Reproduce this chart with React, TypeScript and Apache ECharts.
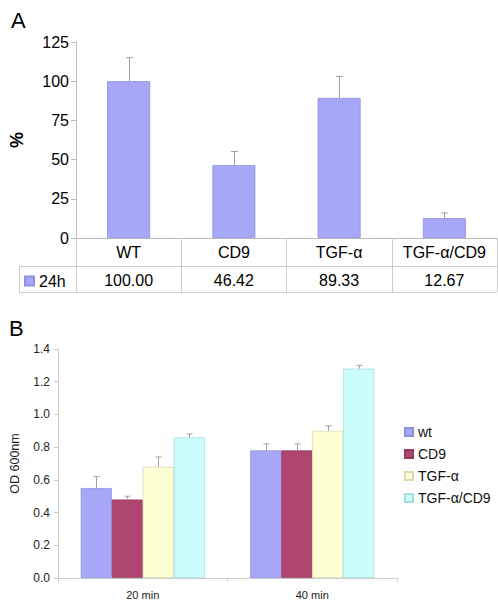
import React, { useEffect, useRef } from "react";
import * as echarts from "echarts";

// ---- Panel A data ----
const categoriesA = ["WT", "CD9", "TGF-α", "TGF-α/CD9"];
const values24h = [100, 46.42, 89.33, 12.67];
const errors24h = [15, 8.7, 13.7, 3.3];
const yTicksA = { min: 0, max: 125, interval: 25 };

// ---- Panel B data ----
const categoriesB = ["20 min", "40 min"];
const seriesNamesB = ["wt", "CD9", "TGF-α", "TGF-α/CD9"];
const wtValues = [0.55, 0.78];
const wtErrors = [0.07, 0.04];
const cd9Values = [0.48, 0.78];
const cd9Errors = [0.02, 0.04];
const tgfValues = [0.68, 0.9];
const tgfErrors = [0.06, 0.03];
const tgfCd9Values = [0.86, 1.28];
const tgfCd9Errors = [0.02, 0.02];
const yTicksB = { min: 0, max: 1.4, interval: 0.2 };

const colorsB = ["#a6a8f7", "#ae4670", "#ffffd4", "#ccfdfd"];
const bordersB = ["#8e90e0", "#953a60", "#d8d8b4", "#a6dcdc"];

const FONT = "Liberation Sans, Arial, sans-serif";

function errorRenderer(offset: number, capHalf: number) {
  return (params: any, api: any) => {
    const cat = api.value(0);
    const v = api.value(1);
    const e = api.value(2);
    const p0 = api.coord([cat, v]);
    const p1 = api.coord([cat, v + e]);
    const x = Math.round(p0[0] + offset) + 0.5;
    const style = { stroke: "#a0a0a0", lineWidth: 1 };
    return {
      type: "group",
      children: [
        { type: "line", shape: { x1: x, y1: p0[1], x2: x, y2: p1[1] }, style },
        { type: "line", shape: { x1: x - capHalf, y1: p1[1], x2: x + capHalf, y2: p1[1] }, style },
      ],
    };
  };
}

export default function App() {
  const ref = useRef<HTMLDivElement>(null);
  useEffect(() => {
    if (!ref.current) return;
    const chart = echarts.init(ref.current, null, { renderer: "svg" });
    const valsB = [wtValues, cd9Values, tgfValues, tgfCd9Values];
    const errsB = [wtErrors, cd9Errors, tgfErrors, tgfCd9Errors];
    const barWB = 31;

    const option: any = {
      animation: false,
      textStyle: { fontFamily: FONT },
      graphic: [
        { type: "text", left: 11, top: 9, style: { text: "A", fontSize: 22, fontFamily: FONT, fill: "#000" } },
        { type: "text", left: 9, top: 317, style: { text: "B", fontSize: 22, fontFamily: FONT, fill: "#000" } },
        { type: "line", shape: { x1: 19, y1: 266.5, x2: 497, y2: 266.5 }, style: { stroke: "#cccccc", lineWidth: 1 } },
        { type: "line", shape: { x1: 19, y1: 292.5, x2: 497, y2: 292.5 }, style: { stroke: "#cccccc", lineWidth: 1 } },
        { type: "line", shape: { x1: 19.5, y1: 266, x2: 19.5, y2: 293 }, style: { stroke: "#cccccc", lineWidth: 1 } },
      ],
      legend: [
        {
          data: ["24h"],
          left: 24,
          top: 273,
          padding: 0,
          icon: "rect",
          itemWidth: 9,
          itemHeight: 9,
          textStyle: { fontSize: 16, color: "#000", fontFamily: FONT },
        },
        {
          data: seriesNamesB,
          orient: "vertical",
          left: 404,
          top: 425,
          padding: 0,
          icon: "rect",
          itemWidth: 8,
          itemHeight: 8,
          itemGap: 8,
          textStyle: { fontSize: 14, color: "#111", fontFamily: FONT },
        },
      ],
      grid: [
        { left: 72, top: 42, width: 425, height: 196 },
        { left: 53, top: 349, width: 344, height: 229 },
      ],
      xAxis: [
        {
          type: "category",
          gridIndex: 0,
          data: categoriesA,
          axisLine: { lineStyle: { color: "#bbbbbb" } },
          axisTick: { show: true, length: 54, interval: 0, lineStyle: { color: "#cccccc" } },
          axisLabel: { fontSize: 16, color: "#000", margin: 6, fontFamily: FONT, interval: 0 },
        },
        {
          type: "category",
          gridIndex: 0,
          position: "bottom",
          offset: 28,
          data: categoriesA,
          axisLine: { show: false },
          axisTick: { show: false },
          axisLabel: {
            fontSize: 16,
            color: "#000",
            margin: 6,
            fontFamily: FONT,
            interval: 0,
            formatter: (_v: string, i: number) => values24h[i].toFixed(2),
          },
        },
        {
          type: "category",
          gridIndex: 1,
          data: categoriesB,
          axisLine: { lineStyle: { color: "#cccccc" } },
          axisTick: { show: true, length: 4, lineStyle: { color: "#cccccc" } },
          axisLabel: { fontSize: 11, color: "#222", margin: 11, fontFamily: FONT },
        },
      ],
      yAxis: [
        {
          type: "value",
          gridIndex: 0,
          min: yTicksA.min,
          max: yTicksA.max,
          interval: yTicksA.interval,
          name: "%",
          nameLocation: "middle",
          nameGap: 50,
          nameRotate: 90,
          nameTextStyle: { fontSize: 18, fontWeight: "bold", color: "#000", fontFamily: FONT },
          splitLine: { show: false },
          axisLine: { show: true, lineStyle: { color: "#bbbbbb" } },
          axisTick: { show: true, length: 5, lineStyle: { color: "#bbbbbb" } },
          axisLabel: { fontSize: 16, color: "#000", margin: 7, fontFamily: FONT },
        },
        {
          type: "value",
          gridIndex: 1,
          min: yTicksB.min,
          max: yTicksB.max,
          interval: yTicksB.interval,
          name: "OD 600nm",
          nameLocation: "middle",
          nameGap: 37,
          nameRotate: 90,
          nameTextStyle: { fontSize: 12.5, color: "#222", fontFamily: FONT },
          splitLine: { show: false },
          axisLine: { show: true, lineStyle: { color: "#cccccc" } },
          axisTick: { show: true, length: 4, lineStyle: { color: "#cccccc" } },
          axisLabel: {
            fontSize: 12,
            color: "#222",
            margin: 8,
            fontFamily: FONT,
            formatter: (v: number) => v.toFixed(1),
          },
        },
      ],
      series: [
        {
          name: "24h",
          type: "bar",
          xAxisIndex: 0,
          yAxisIndex: 0,
          data: values24h,
          barWidth: 43,
          itemStyle: { color: "#a6a8f7", borderColor: "#8e90e0", borderWidth: 0.8 },
        },
        {
          name: "err24h",
          type: "custom",
          xAxisIndex: 0,
          yAxisIndex: 0,
          data: values24h.map((v, i) => [i, v, errors24h[i]]),
          encode: { x: 0, y: 1 },
          renderItem: errorRenderer(0, 3.5),
          z: 3,
        },
        ...seriesNamesB.map((name, k) => ({
          name,
          type: "bar",
          xAxisIndex: 2,
          yAxisIndex: 1,
          data: valsB[k],
          barWidth: barWB,
          barGap: "0%",
          itemStyle: { color: colorsB[k], borderColor: bordersB[k], borderWidth: 0.8 },
        })),
        ...seriesNamesB.map((name, k) => ({
          name: name + "-err",
          type: "custom",
          xAxisIndex: 2,
          yAxisIndex: 1,
          data: valsB[k].map((v, i) => [i, v, errsB[k][i]]),
          encode: { x: 0, y: 1 },
          renderItem: errorRenderer((k - 1.5) * barWB, 3),
          z: 3,
        })),
      ],
    };
    chart.setOption(option);
    return () => chart.dispose();
  }, []);
  return (
    <div
      ref={ref}
      style={{ position: "fixed", left: 0, top: 0, width: 498, height: 607, background: "#fff" }}
    />
  );
}
